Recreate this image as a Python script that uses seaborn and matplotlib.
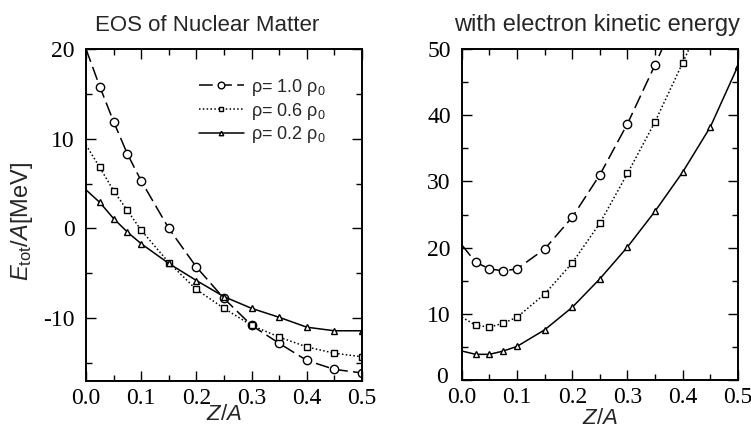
import numpy as np
import pandas as pd
import matplotlib
matplotlib.use("Agg")
import matplotlib.pyplot as plt
import matplotlib.transforms as mtrans
import seaborn as sns
from matplotlib.ticker import MultipleLocator, FormatStrFormatter
from matplotlib.lines import Line2D

# ---- data ----
za_left = [0.0, 0.025, 0.05, 0.075, 0.1, 0.15, 0.2, 0.25, 0.3, 0.35, 0.4, 0.45, 0.5]
left_rho10 = [20.0, 15.8, 11.9, 8.3, 5.3, 0.0, -4.3, -7.8, -10.8, -12.8, -14.7, -15.7, -16.1]
left_rho06 = [9.3, 6.8, 4.2, 2.0, -0.2, -3.8, -6.8, -8.9, -10.8, -12.1, -13.2, -13.9, -14.3]
left_rho02 = [4.3, 2.9, 1.1, -0.4, -1.7, -3.9, -5.8, -7.6, -8.9, -9.9, -11.0, -11.4, -11.4]

za_r10 = [0.0, 0.025, 0.05, 0.075, 0.1, 0.15, 0.2, 0.25, 0.3, 0.35, 0.4]
right_rho10 = [20.4, 17.8, 16.8, 16.5, 16.8, 19.8, 24.6, 31.0, 38.7, 47.6, 57.0]
za_r06 = [0.0, 0.025, 0.05, 0.075, 0.1, 0.15, 0.2, 0.25, 0.3, 0.35, 0.4, 0.45]
right_rho06 = [9.5, 8.3, 8.0, 8.6, 9.5, 13.0, 17.7, 23.7, 31.2, 39.0, 47.9, 57.0]
za_r02 = [0.0, 0.025, 0.05, 0.075, 0.1, 0.15, 0.2, 0.25, 0.3, 0.35, 0.4, 0.45, 0.5]
right_rho02 = [4.4, 3.9, 3.9, 4.4, 5.1, 7.6, 11.0, 15.3, 20.1, 25.5, 31.4, 38.2, 47.4]

legend_labels = [r"ρ= 1.0 ρ$_0$", r"ρ= 0.6 ρ$_0$", r"ρ= 0.2 ρ$_0$"]
titles = ["EOS of Nuclear Matter", "with electron kinetic energy"]

# ---- style ----
sns.set_style("ticks")
plt.rcParams["font.family"] = ["Liberation Serif", "DejaVu Serif"]
plt.rcParams["axes.unicode_minus"] = False
plt.rcParams["mathtext.fontset"] = "custom"
plt.rcParams["mathtext.rm"] = "Liberation Sans"
plt.rcParams["mathtext.it"] = "Liberation Sans:italic"

fig = plt.figure(figsize=(7.51, 4.33), dpi=100)
axL = fig.add_axes([0.1145, 0.12, 0.3675, 0.767])
axR = fig.add_axes([0.615, 0.122, 0.3675, 0.765])

styles = [
    dict(ls=(0, (9, 3.5)), marker="o", ms=6.0),
    dict(ls=(0, (1, 1.5)), marker="s", ms=4.0),
    dict(ls="-", marker="^", ms=4.0),
]

def draw(ax, xs, ys):
    for x, y, st in zip(xs, ys, styles):
        sns.lineplot(x=x, y=y, ax=ax, color="black", linewidth=1.1,
                     linestyle=st["ls"], marker=st["marker"], markersize=st["ms"],
                     markerfacecolor="white", markeredgecolor="black",
                     markeredgewidth=1.0, markevery=slice(1, None), sort=False,
                     estimator=None)

draw(axL, [za_left] * 3, [left_rho10, left_rho06, left_rho02])
draw(axR, [za_r10, za_r06, za_r02], [right_rho10, right_rho06, right_rho02])

axL.set_xlim(0, 0.5)
axL.set_ylim(-17, 20)
axR.set_xlim(0, 0.5)
axR.set_ylim(0, 50)

for ax in (axL, axR):
    ax.xaxis.set_major_locator(MultipleLocator(0.1))
    ax.xaxis.set_minor_locator(MultipleLocator(0.05))
    ax.yaxis.set_major_locator(MultipleLocator(10))
    ax.yaxis.set_minor_locator(MultipleLocator(5))
    ax.xaxis.set_major_formatter(FormatStrFormatter("%.1f"))
    ax.tick_params(which="both", direction="in", top=True, right=True,
                   labelsize=17, width=1.0, colors="black")
    ax.tick_params(axis="x", which="major", pad=5)
    ax.tick_params(axis="y", which="major", pad=8)
    ax.tick_params(which="major", length=7)
    ax.tick_params(which="minor", length=4)
    for s in ax.spines.values():
        s.set_visible(True)
        s.set_linewidth(1.4)
        s.set_color("black")
    ax.set_ylabel("")

axL.set_xlabel(r"$Z/A$", fontsize=16, family="Liberation Sans")
axL.xaxis.set_label_coords(0.5, -0.07)
axR.set_xlabel(r"$Z/A$", fontsize=16, family="Liberation Sans")
axR.xaxis.set_label_coords(0.5, -0.085)

axL.set_title(titles[0], fontsize=16, family="Liberation Sans", x=0.44, pad=13)
axR.set_title(titles[1], fontsize=17, family="Liberation Sans", x=0.49, pad=13)
axL.set_ylabel(r"$E_{\rm tot}/A$[MeV]", fontsize=17, family="Liberation Sans")
axL.yaxis.set_label_coords(-0.185, 0.48)

# nudge the "0" label of the right panel up-left as in the reference
fig.canvas.draw()
for lbl, val in zip(axR.get_yticklabels(), axR.get_yticks()):
    if val == 0:
        lbl.set_transform(lbl.get_transform() +
                          mtrans.ScaledTranslation(-3 / 100, 5 / 100, fig.dpi_scale_trans))

handles = [Line2D([], [], color="black", lw=1.1, ls=st["ls"], marker=st["marker"],
                  ms=st["ms"] * 0.8, mfc="white", mec="black") for st in styles]
leg = axL.legend(handles, legend_labels, loc="upper left", bbox_to_anchor=(0.35, 0.965),
                 frameon=False, handlelength=2.5, handletextpad=0.4, labelspacing=0.15,
                 prop={"family": "Liberation Sans", "size": 13}, numpoints=1)

fig.savefig("out.png", dpi=100)
